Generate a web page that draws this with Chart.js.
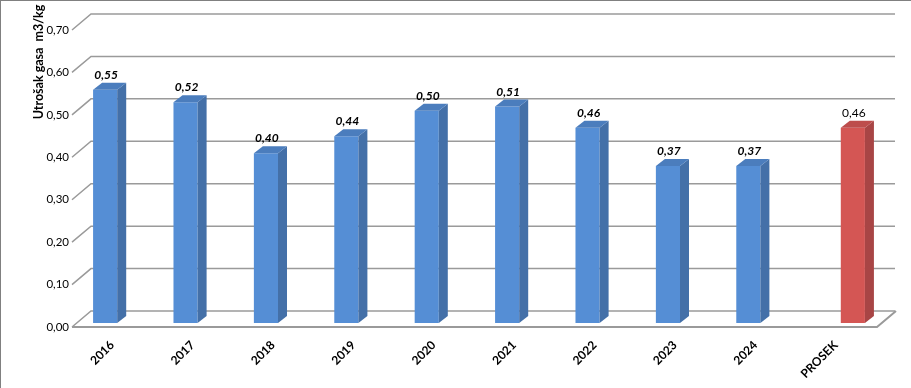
<!DOCTYPE html>
<html lang="sr">
<head>
    <meta charset="UTF-8">
    <title>Utrošak gasa</title>
    <script src="https://cdn.jsdelivr.net/npm/chart.js"></script>
    <style>
        body { margin: 0; background: #fff; }
        #wrap { width: 911px; height: 388px; }
    </style>
</head>
<body>
    <div id="wrap"><canvas id="gasChart"></canvas></div>
    <script>
        // data
        var categories = ['2016', '2017', '2018', '2019', '2020', '2021', '2022', '2023', '2024', 'PROSEK'];
        var yearValues = [0.55, 0.52, 0.40, 0.44, 0.50, 0.51, 0.46, 0.37, 0.37, null];
        var averageValues = [null, null, null, null, null, null, null, null, null, 0.46];
        var axisTitle = 'Utrošak gasa  m3/kg';

        // 3d look
        var WALL_DX = 19, WALL_DY = -16;   // depth of back wall
        var BAR_SHIFT_X = 5, BAR_SHIFT_Y = -4; // bars sit a bit behind the front plane
        var BAR_DX = 9, BAR_DY = -7;       // bar depth
        var GRID_COLOR = '#9a9a9a';

        var faceColors = [
            { side: '#4470a8', top: '#4b7dbd' },
            { side: '#a84545', top: '#bd4d4c' }
        ];

        function fmt(v) { return v.toFixed(2).replace('.', ','); }

        var threeD = {
            id: 'threeD',
            beforeDatasetsDraw: function (chart) {
                var ctx = chart.ctx, a = chart.chartArea, y = chart.scales.y;
                ctx.save();
                // frame
                ctx.strokeStyle = '#808080';
                ctx.lineWidth = 2;
                ctx.beginPath();
                ctx.moveTo(0, 388); ctx.lineTo(0, 0); ctx.lineTo(911, 0);
                ctx.stroke();

                ctx.strokeStyle = GRID_COLOR;
                ctx.lineWidth = 1.5;
                y.ticks.forEach(function (t) {
                    var py = y.getPixelForValue(t.value);
                    ctx.beginPath();
                    ctx.moveTo(a.left, py);
                    ctx.lineTo(a.left + WALL_DX, py + WALL_DY);
                    ctx.lineTo(a.right + WALL_DX, py + WALL_DY);
                    ctx.stroke();
                });
                // floor
                var p0 = y.getPixelForValue(0);
                ctx.lineWidth = 2;
                ctx.beginPath();
                ctx.moveTo(a.left, p0);
                ctx.lineTo(a.right + 1, p0);
                ctx.lineTo(a.right + 1 + WALL_DX, p0 + WALL_DY);
                ctx.stroke();

                // axis title
                ctx.fillStyle = '#000';
                ctx.font = 'bold 12.5px Lato';
                ctx.textAlign = 'center';
                ctx.textBaseline = 'middle';
                ctx.translate(39, 62);
                ctx.rotate(-Math.PI / 2);
                ctx.fillText(axisTitle, 0, 0);
                ctx.restore();

                ctx.save();
                ctx.translate(BAR_SHIFT_X, BAR_SHIFT_Y);
            },
            afterDatasetsDraw: function (chart) {
                var ctx = chart.ctx;
                chart.data.datasets.forEach(function (ds, i) {
                    var meta = chart.getDatasetMeta(i);
                    meta.data.forEach(function (bar, j) {
                        var v = ds.data[j];
                        if (v === null) return;
                        var l = bar.x - bar.width / 2, r = bar.x + bar.width / 2;
                        var t = bar.y, b = bar.base;
                        ctx.fillStyle = faceColors[i].side;
                        ctx.beginPath();
                        ctx.moveTo(r, t); ctx.lineTo(r + BAR_DX, t + BAR_DY);
                        ctx.lineTo(r + BAR_DX, b + BAR_DY); ctx.lineTo(r, b);
                        ctx.closePath(); ctx.fill();
                        ctx.fillStyle = faceColors[i].top;
                        ctx.beginPath();
                        ctx.moveTo(l, t); ctx.lineTo(l + BAR_DX, t + BAR_DY);
                        ctx.lineTo(r + BAR_DX, t + BAR_DY); ctx.lineTo(r, t);
                        ctx.closePath(); ctx.fill();

                        ctx.fillStyle = '#000';
                        ctx.font = i === 0 ? 'italic bold 12px Lato' : '12px Lato';
                        ctx.textAlign = 'center';
                        ctx.textBaseline = 'alphabetic';
                        ctx.fillText(fmt(v), bar.x + 1, t + BAR_DY - 4);
                    });
                });
                ctx.restore();
            }
        };

        var ctx = document.getElementById('gasChart').getContext('2d');
        var gasChart = new Chart(ctx, {
            type: 'bar',
            data: {
                labels: categories,
                datasets: [{
                    label: 'Godina',
                    data: yearValues,
                    backgroundColor: '#558ed5',
                    borderWidth: 0
                }, {
                    label: 'Prosek',
                    data: averageValues,
                    backgroundColor: '#d45654',
                    borderWidth: 0
                }]
            },
            options: {
                responsive: true,
                maintainAspectRatio: false,
                animation: false,
                clip: false,
                categoryPercentage: 0.6,
                barPercentage: 1,
                layout: { padding: { top: 30, right: 35, left: 0, bottom: 0 } },
                plugins: {
                    legend: { display: false },
                    tooltip: { enabled: false }
                },
                scales: {
                    x: {
                        grid: { display: false, drawTicks: false },
                        border: { display: false },
                        ticks: {
                            color: '#000',
                            font: { family: 'Lato', size: 12, weight: 'bold' },
                            minRotation: 45,
                            maxRotation: 45,
                            padding: 11
                        },
                        afterFit: function (s) { s.height = 61; }
                    },
                    y: {
                        min: 0,
                        max: 0.7,
                        grid: { display: false, drawTicks: false },
                        border: { display: false },
                        ticks: {
                            stepSize: 0.1,
                            color: '#000',
                            font: { family: 'Lato', size: 11.5 },
                            padding: 3,
                            callback: function (v) { return fmt(v); }
                        },
                        afterFit: function (s) { s.width = 72; }
                    }
                }
            },
            plugins: [threeD]
        });
    </script>
</body>
</html>
